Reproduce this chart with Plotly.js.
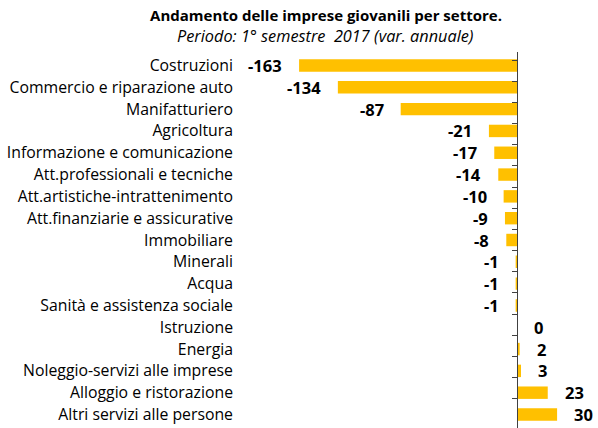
<!DOCTYPE html>
<html>
<head>
<meta charset="utf-8">
<script src="https://cdn.plot.ly/plotly-3.0.1.min.js"></script>
<style>html,body{margin:0;padding:0;background:#fff;}#chart{width:598px;height:428px;}</style>
</head>
<body>
<div id="chart"></div>
<script>
const categories = [
  "Costruzioni",
  "Commercio e riparazione auto",
  "Manifatturiero",
  "Agricoltura",
  "Informazione e comunicazione",
  "Att.professionali e tecniche",
  "Att.artistiche-intrattenimento",
  "Att.finanziarie e assicurative",
  "Immobiliare",
  "Minerali",
  "Acqua",
  "Sanità e assistenza sociale",
  "Istruzione",
  "Energia",
  "Noleggio-servizi alle imprese",
  "Alloggio e ristorazione",
  "Altri servizi alle persone"
];
const values = [-163, -134, -87, -21, -17, -14, -10, -9, -8, -1, -1, -1, 0, 2, 3, 23, 30];
const titleText = "Andamento delle imprese giovanili per settore.";
const subtitleText = "Periodo: 1° semestre  2017 (var. annuale)";

const FONT = "'Open Sans', sans-serif";
const xRange = [-207.2, 60.6];
const zeroPos = (0 - xRange[0]) / (xRange[1] - xRange[0]);

const bars = {
  type: "bar",
  orientation: "h",
  x: values,
  y: categories,
  marker: {color: "#FFC000"},
  hoverinfo: "skip",
  yaxis: "y"
};
const axisHelper = {
  type: "scatter",
  mode: "none",
  x: values,
  y: categories,
  yaxis: "y2",
  hoverinfo: "skip",
  showlegend: false
};

const annotations = values.map((v, i) => ({
  x: v,
  y: categories[i],
  xref: "x",
  yref: "y",
  text: "<b>" + v + "</b>",
  showarrow: false,
  xanchor: v < 0 ? "right" : "left",
  xshift: v < 0 ? -15 : 15,
  font: {family: FONT, size: 16.5, color: "#000"}
}));
annotations.push({
  xref: "paper", yref: "paper",
  x: (325 - 240) / 358, y: (428 - 36) / 376,
  xanchor: "center", yanchor: "middle",
  text: "<i>" + subtitleText + "</i>",
  showarrow: false,
  font: {family: FONT, size: 16.3, color: "#000"}
});

const layout = {
  width: 598,
  height: 428,
  margin: {l: 240, r: 0, t: 52, b: 0},
  paper_bgcolor: "#fff",
  plot_bgcolor: "#fff",
  showlegend: false,
  bargap: 0.43,
  title: {
    text: "<b>" + titleText + "</b>",
    x: 326 / 598, xanchor: "center",
    y: 1 - 16 / 428, yanchor: "middle",
    font: {family: FONT, size: 15, color: "#000"}
  },
  xaxis: {
    range: xRange,
    visible: false,
    fixedrange: true
  },
  yaxis: {
    type: "category",
    categoryorder: "array",
    categoryarray: categories,
    autorange: "reversed",
    showline: false,
    showgrid: false,
    zeroline: false,
    ticks: "",
    ticklabelstandoff: 6,
    tickfont: {family: FONT, size: 15.8, color: "#000"}
  },
  yaxis2: {
    type: "category",
    categoryorder: "array",
    categoryarray: categories,
    autorange: "reversed",
    overlaying: "y",
    anchor: "free",
    position: zeroPos,
    side: "left",
    showline: true,
    linecolor: "#404040",
    linewidth: 1,
    ticks: "outside",
    tickson: "boundaries",
    ticklen: 5,
    tickcolor: "#404040",
    showticklabels: false,
    showgrid: false,
    zeroline: false
  },
  annotations: annotations
};

Plotly.newPlot("chart", [bars, axisHelper], layout, {displayModeBar: false, staticPlot: true});
</script>
</body>
</html>
